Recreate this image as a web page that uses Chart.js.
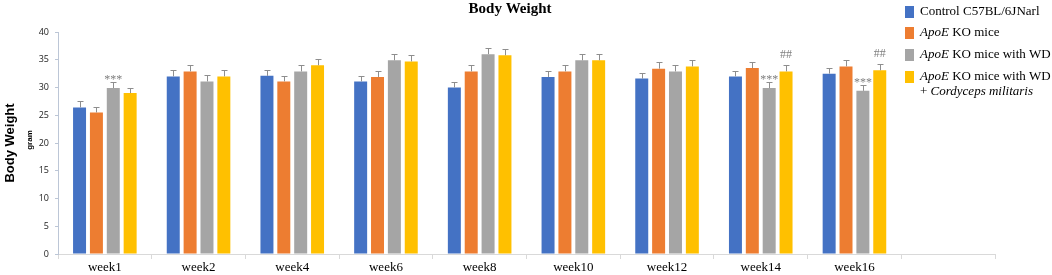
<!doctype html>
<html>
<head>
<title>Body Weight</title>
<script src="https://cdn.jsdelivr.net/npm/chart.js@4.4.1/dist/chart.umd.min.js"></script>
<style>
  body { margin: 0; background: #fff; }
  #wrap { width: 1052px; height: 275px; position: relative; }
</style>
</head>
<body>
<div id="wrap"><canvas id="canvas" width="1052" height="275"></canvas></div>
<script>
// categories (last slot is empty in the original figure)
var weeks = ['week1', 'week2', 'week4', 'week6', 'week8', 'week10', 'week12', 'week14', 'week16', ''];

// mean body weight, gram
var control = [26.4, 32.0, 32.1, 31.1, 30.0, 31.9, 31.6, 32.0, 32.5, null];
var apoe = [25.5, 32.9, 31.1, 31.9, 32.9, 32.9, 33.4, 33.5, 33.8, null];
var apoeWD = [29.9, 31.1, 32.9, 34.9, 36.0, 34.9, 32.9, 29.9, 29.4, null];
var apoeWDCM = [29.0, 32.0, 34.0, 34.7, 35.8, 34.9, 33.8, 32.9, 33.1, null];

// error (upper bar only)
var controlErr = [1.1, 1.1, 1.0, 1.0, 1.0, 1.0, 1.1, 1.0, 1.0, null];
var apoeErr = [0.95, 1.15, 1.0, 1.1, 1.1, 1.15, 1.15, 1.1, 1.1, null];
var apoeWDErr = [1.1, 1.1, 1.15, 1.2, 1.1, 1.2, 1.15, 1.1, 1.0, null];
var apoeWDCMErr = [1.0, 1.1, 1.1, 1.1, 1.15, 1.2, 1.15, 1.1, 1.2, null];

var yTicks = [0, 5, 10, 15, 20, 25, 30, 35, 40];

// significance marks: [week index, series index, text]
var marks = [[0, 2, '***'], [7, 2, '***'], [8, 2, '***'], [7, 3, '##'], [8, 3, '##']];

var colors = ['#4472c4', '#ed7d31', '#a5a5a5', '#ffc000'];
var errs = [controlErr, apoeErr, apoeWDErr, apoeWDCMErr];

// legend entries as runs of [text, italic]
var legendRows = [
  [[['Control C57BL/6JNarl', false]]],
  [[['ApoE', true], [' KO mice', false]]],
  [[['ApoE', true], [' KO mice with WD', false]]],
  [[['ApoE', true], [' KO mice with WD', false]], [['+ ', false], ['Cordyceps militaris', true]]]
];

var extras = {
  id: 'extras',
  afterDatasetsDraw: function(chart) {
    var ctx = chart.ctx;
    var y = chart.scales.y;
    ctx.save();
    ctx.strokeStyle = '#8e8e8e';
    ctx.lineWidth = 1;
    chart.data.datasets.forEach(function(ds, i) {
      var meta = chart.getDatasetMeta(i);
      meta.data.forEach(function(bar, j) {
        if (ds.data[j] == null) return;
        var top = Math.round(y.getPixelForValue(ds.data[j] + errs[i][j])) + 0.5;
        var x = Math.round(bar.x) + 0.5;
        ctx.beginPath();
        ctx.moveTo(x, bar.y);
        ctx.lineTo(x, top);
        ctx.moveTo(x - 3, top);
        ctx.lineTo(x + 3, top);
        ctx.stroke();
      });
    });
    // significance marks
    ctx.fillStyle = '#7f7f7f';
    ctx.textAlign = 'center';
    ctx.textBaseline = 'alphabetic';
    marks.forEach(function(m) {
      var bar = chart.getDatasetMeta(m[1]).data[m[0]];
      var v = chart.data.datasets[m[1]].data[m[0]] + errs[m[1]][m[0]];
      var top = y.getPixelForValue(v);
      ctx.font = '12px "Liberation Serif"';
      if (m[2] === '***') {
        ctx.fillText(m[2], bar.x, top + 1);
      } else {
        ctx.fillText(m[2], bar.x, top - 7);
      }
    });
    ctx.restore();
  },
  afterDraw: function(chart) {
    var ctx = chart.ctx;
    ctx.save();
    // title
    ctx.fillStyle = '#000';
    ctx.textAlign = 'center';
    ctx.textBaseline = 'middle';
    ctx.font = 'bold 15px "Liberation Serif"';
    ctx.fillText('Body Weight', 510, 9);

    // y axis title
    ctx.save();
    ctx.translate(10, 143);
    ctx.rotate(-Math.PI / 2);
    ctx.font = 'bold 13px "Liberation Sans"';
    ctx.fillText('Body Weight', 0, 0);
    ctx.restore();
    ctx.save();
    ctx.translate(30, 140);
    ctx.rotate(-Math.PI / 2);
    ctx.font = 'bold 8px "Liberation Sans"';
    ctx.fillText('gram', 0, 0);
    ctx.restore();

    // legend
    var rowY = [12, 33, 55, 77];
    ctx.textAlign = 'left';
    ctx.textBaseline = 'middle';
    legendRows.forEach(function(lines, i) {
      ctx.fillStyle = colors[i];
      ctx.fillRect(905, rowY[i] - 6, 9, 12);
      lines.forEach(function(runs, k) {
        var x = 920;
        runs.forEach(function(r) {
          ctx.font = (r[1] ? 'italic ' : '') + '13px "Liberation Serif"';
          ctx.fillStyle = '#000';
          ctx.fillText(r[0], x, rowY[i] + k * 15);
          x += ctx.measureText(r[0]).width;
        });
      });
    });
    ctx.restore();
  }
};

var labels = ['Control C57BL/6JNarl', 'ApoE KO mice', 'ApoE KO mice with WD', 'ApoE KO mice with WD + Cordyceps militaris'];
var series = [control, apoe, apoeWD, apoeWDCM];

var ctx = document.getElementById('canvas').getContext('2d');
window.myBar = new Chart(ctx, {
  type: 'bar',
  data: {
    labels: weeks,
    datasets: series.map(function(s, i) {
      return {
        label: labels[i],
        data: s,
        backgroundColor: colors[i],
        borderWidth: 0,
        categoryPercentage: 0.72,
        barPercentage: 0.77
      };
    })
  },
  options: {
    responsive: false,
    animation: false,
    layout: { padding: { top: 32, right: 57, left: 0, bottom: 0 } },
    plugins: {
      legend: { display: false },
      title: { display: false },
      tooltip: { enabled: false }
    },
    scales: {
      x: {
        grid: { drawOnChartArea: false, tickLength: 5, color: '#d9d9d9', offset: true },
        border: { color: '#d9d9d9' },
        ticks: { color: '#000', font: { family: '"Liberation Serif"', size: 13 }, padding: 1 },
        afterFit: function(scale) { scale.height = 21; }
      },
      y: {
        min: 0,
        max: 40,
        afterBuildTicks: function(scale) {
          scale.ticks = yTicks.map(function(v) { return { value: v }; });
        },
        grid: { drawOnChartArea: false, tickLength: 3, color: '#bcc6d6' },
        border: { color: '#bcc6d6' },
        ticks: { color: '#222', font: { family: '"Open Sans"', size: 9 }, padding: 6 },
        afterFit: function(scale) { scale.width = 58; }
      }
    }
  },
  plugins: [extras]
});
</script>
</body>
</html>
